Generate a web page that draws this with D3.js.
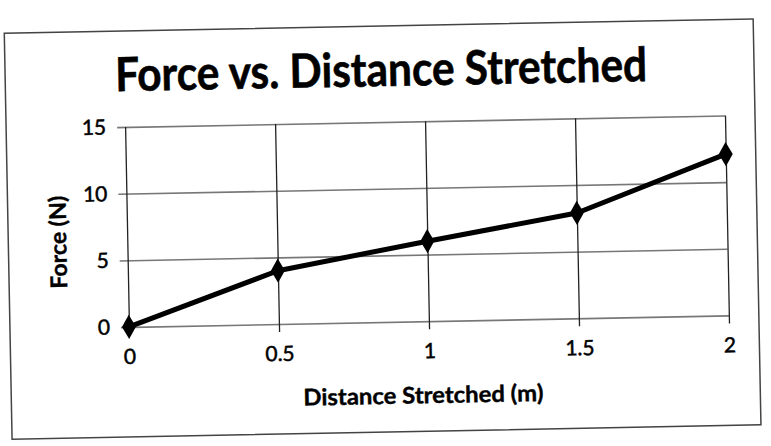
<!DOCTYPE html>
<html>
<head>
<meta charset="utf-8">
<script src="https://cdn.jsdelivr.net/npm/d3@7"></script>
<style>
  html, body { margin: 0; padding: 0; background: #fff; }
  svg { display: block; font-family: Lato, "Open Sans", sans-serif; }
</style>
</head>
<body>
<div id="chart"></div>
<script>
const distance = [0, 0.5, 1, 1.5, 2];
const force = [0, 4.0, 6.0, 7.9, 12.1];
const xTicks = [0, 0.5, 1, 1.5, 2];
const yTicks = [0, 5, 10, 15];
const titleText = 'Force vs. Distance Stretched';
const xTitle = 'Distance Stretched (m)';
const yTitle = 'Force (N)';

const width = 771;
const height = 446;
const margin = { top: 122, right: 44, bottom: 124, left: 127 };
const innerW = width - margin.left - margin.right;
const innerH = height - margin.top - margin.bottom;

const svg = d3.select('#chart').append('svg').attr('width', width).attr('height', height);
svg.append('rect').attr('width', width).attr('height', height).attr('fill', '#fff');

// photo is tilted a little, so the whole chart is rotated
const root = svg.append('g').attr('transform', 'rotate(-1.1,385,223)');

root.append('rect').attr('x', 8).attr('y', 26).attr('width', 749).attr('height', 406)
  .attr('fill', '#fff').attr('stroke', '#444').attr('stroke-width', 1.5);

root.append('text').attr('x', 384).attr('y', 86).attr('text-anchor', 'middle')
  .attr('font-size', 47).attr('font-weight', 700).attr('fill', '#000')
  .attr('stroke', '#000').attr('stroke-width', 0.6)
  .attr('textLength', 532).attr('lengthAdjust', 'spacingAndGlyphs').text(titleText);

const g = root.append('g').attr('transform', `translate(${margin.left},${margin.top})`);
const x = d3.scaleLinear([0, 2], [0, innerW]);
const y = d3.scaleLinear([0, 15], [innerH, 0]);

const labelStyle = (a) => a.selectAll('text').attr('font-size', 21).attr('fill', '#000')
  .attr('stroke', '#000').attr('stroke-width', 0.5).attr('font-family', 'Lato, sans-serif');

// horizontal grid (grey) with short ticks to the left
g.append('g').call(d3.axisLeft(y).tickValues(yTicks).tickSize(-innerW).tickSizeOuter(0).tickPadding(19).tickFormat(d3.format('d')))
  .call((a) => a.select('.domain').remove())
  .call((a) => a.selectAll('line').attr('x1', -8).attr('stroke', '#777').attr('stroke-width', 1.6))
  .call(labelStyle);

// vertical grid (black) with short ticks below
g.append('g').attr('transform', `translate(0,${innerH})`)
  .call(d3.axisBottom(x).tickValues(xTicks).tickSize(-innerH).tickSizeOuter(0).tickPadding(22).tickFormat(d3.format('')))
  .call((a) => a.select('.domain').remove())
  .call((a) => a.selectAll('line').attr('y1', 8).attr('stroke', '#222').attr('stroke-width', 1.3))
  .call(labelStyle);

const pts = distance.map((d, i) => ({ x: d, y: force[i] }));
const line = d3.line().x((d) => x(d.x)).y((d) => y(d.y));
g.append('path').datum(pts).attr('fill', 'none').attr('stroke', '#000').attr('stroke-width', 5)
  .attr('stroke-linejoin', 'round').attr('d', line);
g.selectAll('path.mk').data(pts).join('path').attr('class', 'mk')
  .attr('transform', (d) => `translate(${x(d.x)},${y(d.y)})`)
  .attr('d', d3.symbol(d3.symbolDiamond, 170)).attr('fill', '#000');

root.append('text').attr('x', 420).attr('y', 404).attr('text-anchor', 'middle')
  .attr('font-size', 23).attr('font-weight', 700).attr('fill', '#000')
  .attr('stroke', '#000').attr('stroke-width', 0.4)
  .attr('textLength', 240).attr('lengthAdjust', 'spacingAndGlyphs').text(xTitle);
root.append('text').attr('transform', 'translate(66,236) rotate(-90)').attr('text-anchor', 'middle')
  .attr('font-size', 23).attr('font-weight', 700).attr('fill', '#000')
  .attr('stroke', '#000').attr('stroke-width', 0.4)
  .attr('textLength', 93).attr('lengthAdjust', 'spacingAndGlyphs').text(yTitle);
</script>
</body>
</html>
